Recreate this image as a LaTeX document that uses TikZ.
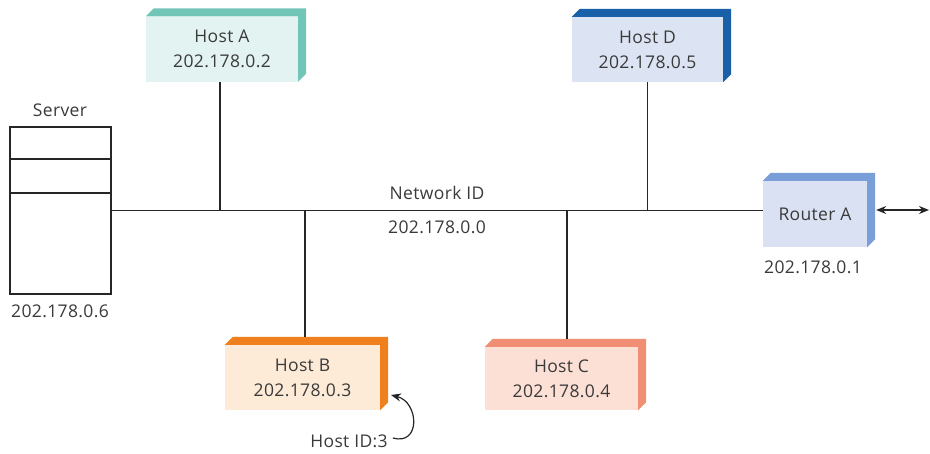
\documentclass[tikz,border=0pt]{standalone}
\usepackage{fontspec}
\setmainfont{Open Sans}[LetterSpace=2]
\usetikzlibrary{calc,arrows.meta}
\definecolor{txt}{HTML}{3A3A3A}
\definecolor{afront}{HTML}{E3F3F1}\definecolor{abev}{HTML}{72C6B8}
\definecolor{dfront}{HTML}{DCE3F2}\definecolor{dbev}{HTML}{1860A8}
\definecolor{rfront}{HTML}{D9E1F2}\definecolor{rbev}{HTML}{7A9FD8}
\definecolor{bfront}{HTML}{FDEBD8}\definecolor{bbev}{HTML}{F07F1E}
\definecolor{cfront}{HTML}{FCE0D6}\definecolor{cbev}{HTML}{F08F73}
\newcommand\mybevel[2]{\fill[#2] (#1.north west) -- ++(8,-8) -- ($(#1.north east)+(8,-8)$) -- ($(#1.south east)+(8,-8)$) -- (#1.south east) -- (#1.north east) -- cycle;}
\tikzset{
  lbl/.style={text=txt, font=\fontsize{17.5}{25}\selectfont, inner sep=0pt},
  hostbox/.style={lbl, align=center, minimum width=#1, minimum height=65pt},
  wire/.style={draw=black!85, line width=1.2pt},
  myarr/.tip={Stealth[length=10pt,width=8pt]},
}
\begin{document}
\begin{tikzpicture}[x=1pt,y=-1pt]
\useasboundingbox[fill=white] (0,0) rectangle (930,453);
% server
\node[draw=black!85, line width=1.2pt, minimum width=101pt, minimum height=167pt, inner sep=0pt] (server) at (60.5,210.5) {};
\draw[wire] (server.west |- 0,159) -- (server.east |- 0,159);
\draw[wire] (server.west |- 0,193) -- (server.east |- 0,193);
\node[lbl] (srvlbl) at (60,110) {Server};
\node[lbl] (srvip) at (60,311) {202.178.0.6};
% hosts
\node[hostbox=152pt, fill=afront] (hostA) at (222,49) {Host A\\202.178.0.2};
\mybevel{hostA}{abev}
\node[hostbox=151pt, fill=dfront] (hostD) at (647.5,49.5) {Host D\\202.178.0.5};
\mybevel{hostD}{dbev}
\node[hostbox=155pt, fill=bfront] (hostB) at (302.5,377.5) {Host B\\202.178.0.3};
\mybevel{hostB}{bbev}
\node[hostbox=153pt, fill=cfront, minimum height=63pt] (hostC) at (561.5,378.5) {Host C\\202.178.0.4};
\mybevel{hostC}{cbev}
\node[hostbox=104pt, fill=rfront, minimum height=66pt] (router) at (815,214) {Router A};
\mybevel{router}{rbev}
\node[lbl] (rtrip) at (813,267) {202.178.0.1};
% network labels
\node[lbl] (netid) at (437,193) {Network ID};
\node[lbl] (netaddr) at (437,227) {202.178.0.0};
% bus
\draw[wire] (server.east) -- (server.east -| router.west);
\draw[wire] ([xshift=-2pt]hostA.south) -- ([xshift=-2pt]hostA.south |- server.east);
\draw[wire] (hostD.south) -- (hostD.south |- server.east);
\draw[wire] ($(hostB.north)+(2.5,-8)$) -- ($(hostB.north |- server.east)+(2.5,0)$);
\draw[wire] ($(hostC.north)+(5.5,-8)$) -- ($(hostC.north |- server.east)+(5.5,0)$);
% external link
\coordinate (ext) at (929,210);
\draw[wire, myarr-myarr] ($(ext -| router.east)+(9,0)$) -- (ext);
% host id
\node[lbl] (hid) at (349,441) {Host ID:3};
\coordinate (hidtip) at (391,395);
\draw[wire, -myarr] ([xshift=5pt,yshift=3pt]hid.east) .. controls (421,446) and (419,402) .. (hidtip);
\end{tikzpicture}
\end{document}
